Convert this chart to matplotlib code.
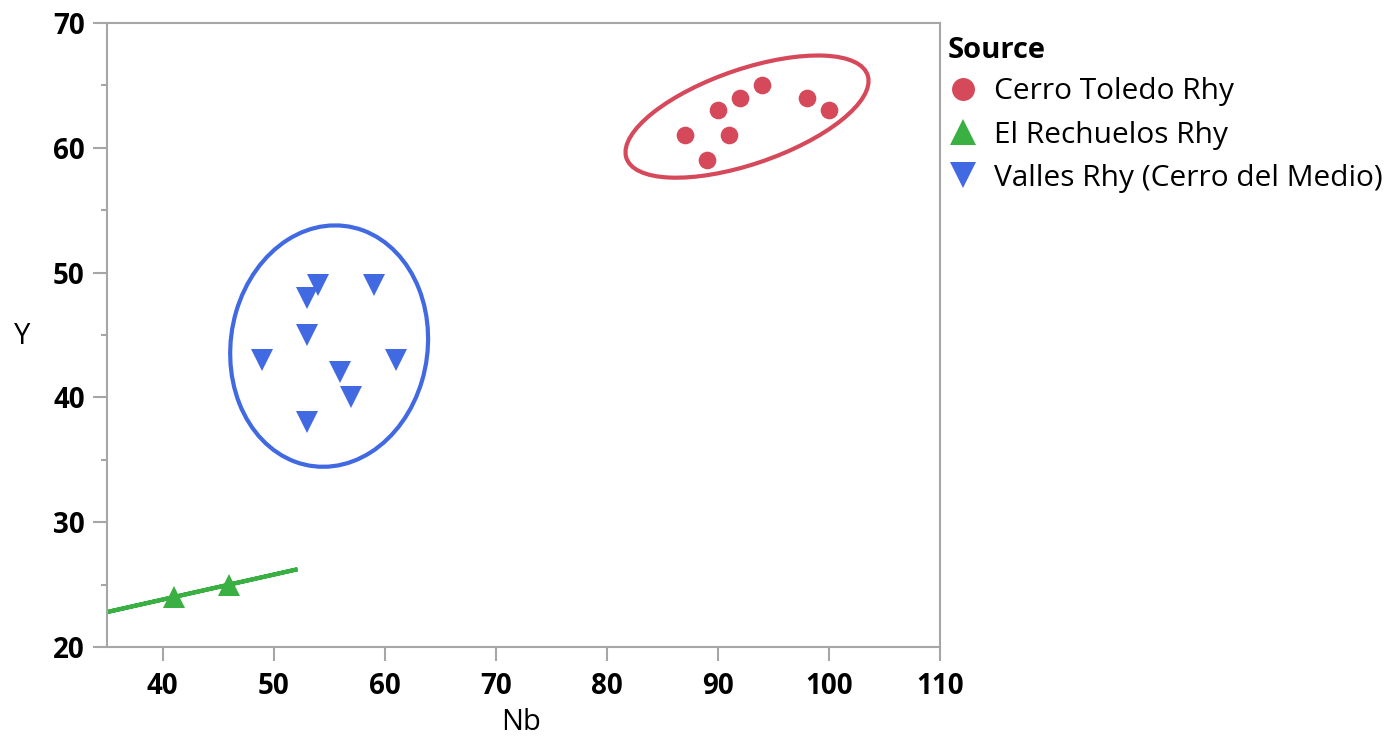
import numpy as np
import matplotlib
matplotlib.use("Agg")
import matplotlib.pyplot as plt
from matplotlib.patches import Ellipse
from matplotlib.lines import Line2D

fam = 'Open Sans'
plt.rcParams['font.family'] = [fam, 'DejaVu Sans']

# Data
ct_nb = [87, 90, 92, 94, 89, 91, 98, 100]
ct_y = [61, 63, 64, 65, 59, 61, 64, 63]
er_nb = [41, 46]
er_y = [24, 25]
vr_nb = [49, 53, 53, 54, 59, 56, 57, 61, 53]
vr_y = [43, 48, 45, 49, 49, 42, 40, 43, 38]

series = [
    ("Cerro Toledo Rhy", ct_nb, ct_y, "#D5495A", "o"),
    ("El Rechuelos Rhy", er_nb, er_y, "#3AB043", "^"),
    ("Valles Rhy (Cerro del Medio)", vr_nb, vr_y, "#4169E1", "v"),
]
xticks = [40, 50, 60, 70, 80, 90, 100, 110]
yticks = [20, 30, 40, 50, 60, 70]

W, H = 1395, 741
fig = plt.figure(figsize=(W / 100, H / 100), dpi=100)
ax = fig.add_axes([107 / W, 1 - 647 / H, (940 - 107) / W, (647 - 23) / H])

k = np.sqrt(-2 * np.log(0.05))  # 95% density ellipse
for name, xs, ys, col, mk in series:
    x = np.asarray(xs, float)
    y = np.asarray(ys, float)
    cov = np.cov(x, y)
    vals, vecs = np.linalg.eigh(cov)
    vals = np.clip(vals, 0, None)
    order = vals.argsort()[::-1]
    vals, vecs = vals[order], vecs[:, order]
    ang = np.degrees(np.arctan2(vecs[1, 0], vecs[0, 0]))
    e = Ellipse((x.mean(), y.mean()), 2 * k * np.sqrt(vals[0]), 2 * k * np.sqrt(vals[1]),
                angle=ang, fill=False, edgecolor=col, lw=3.0, zorder=2)
    ax.add_patch(e)
    ms = 12.7 if mk == "o" else 15.8
    ax.plot(x, y, linestyle='none', marker=mk, markersize=ms, color=col,
            markeredgewidth=0, zorder=3)

ax.set_xlim(35, 110)
ax.set_ylim(20, 70)
ax.set_xticks(xticks, labels=[str(v) for v in xticks], fontweight='bold', fontsize=20)
ax.set_yticks(yticks, labels=[str(v) for v in yticks], fontweight='bold', fontsize=20)
ax.set_yticks(np.arange(25, 70, 10), minor=True)
for s in ax.spines.values():
    s.set_color("#A6A6A6")
    s.set_linewidth(1.5)
ax.tick_params(axis='both', which='major', length=10, width=1.5, color="#A6A6A6",
               direction='out')
ax.tick_params(axis='x', which='major', pad=8)
ax.tick_params(axis='y', which='major', pad=6)
ax.tick_params(axis='y', which='minor', length=4.5, width=1.5, color="#A6A6A6")

fig.text(521 / W, 1 - 723 / H, "Nb", fontsize=21, ha='center', va='center')
fig.text(22 / W, 1 - 336 / H, "Y", fontsize=21, ha='center', va='center')

handles = [Line2D([], [], linestyle='none', marker=mk, color=col,
                  markersize=(16.5 if mk == "o" else 18.5), markeredgewidth=0)
           for name, xs, ys, col, mk in series]
labels = [s[0] for s in series]
leg = fig.legend(handles, labels, loc='upper left', bbox_to_anchor=(948 / W, 1 - 36 / H),
                 frameon=False, fontsize=21.5, title="Source",
                 title_fontproperties={'weight': 'bold', 'size': 21},
                 handlelength=1.0, handletextpad=0.55, labelspacing=0.47,
                 borderaxespad=0, borderpad=0)
leg._legend_box.align = "left"
leg._legend_box.sep = 9

fig.savefig("out.png", dpi=100)
